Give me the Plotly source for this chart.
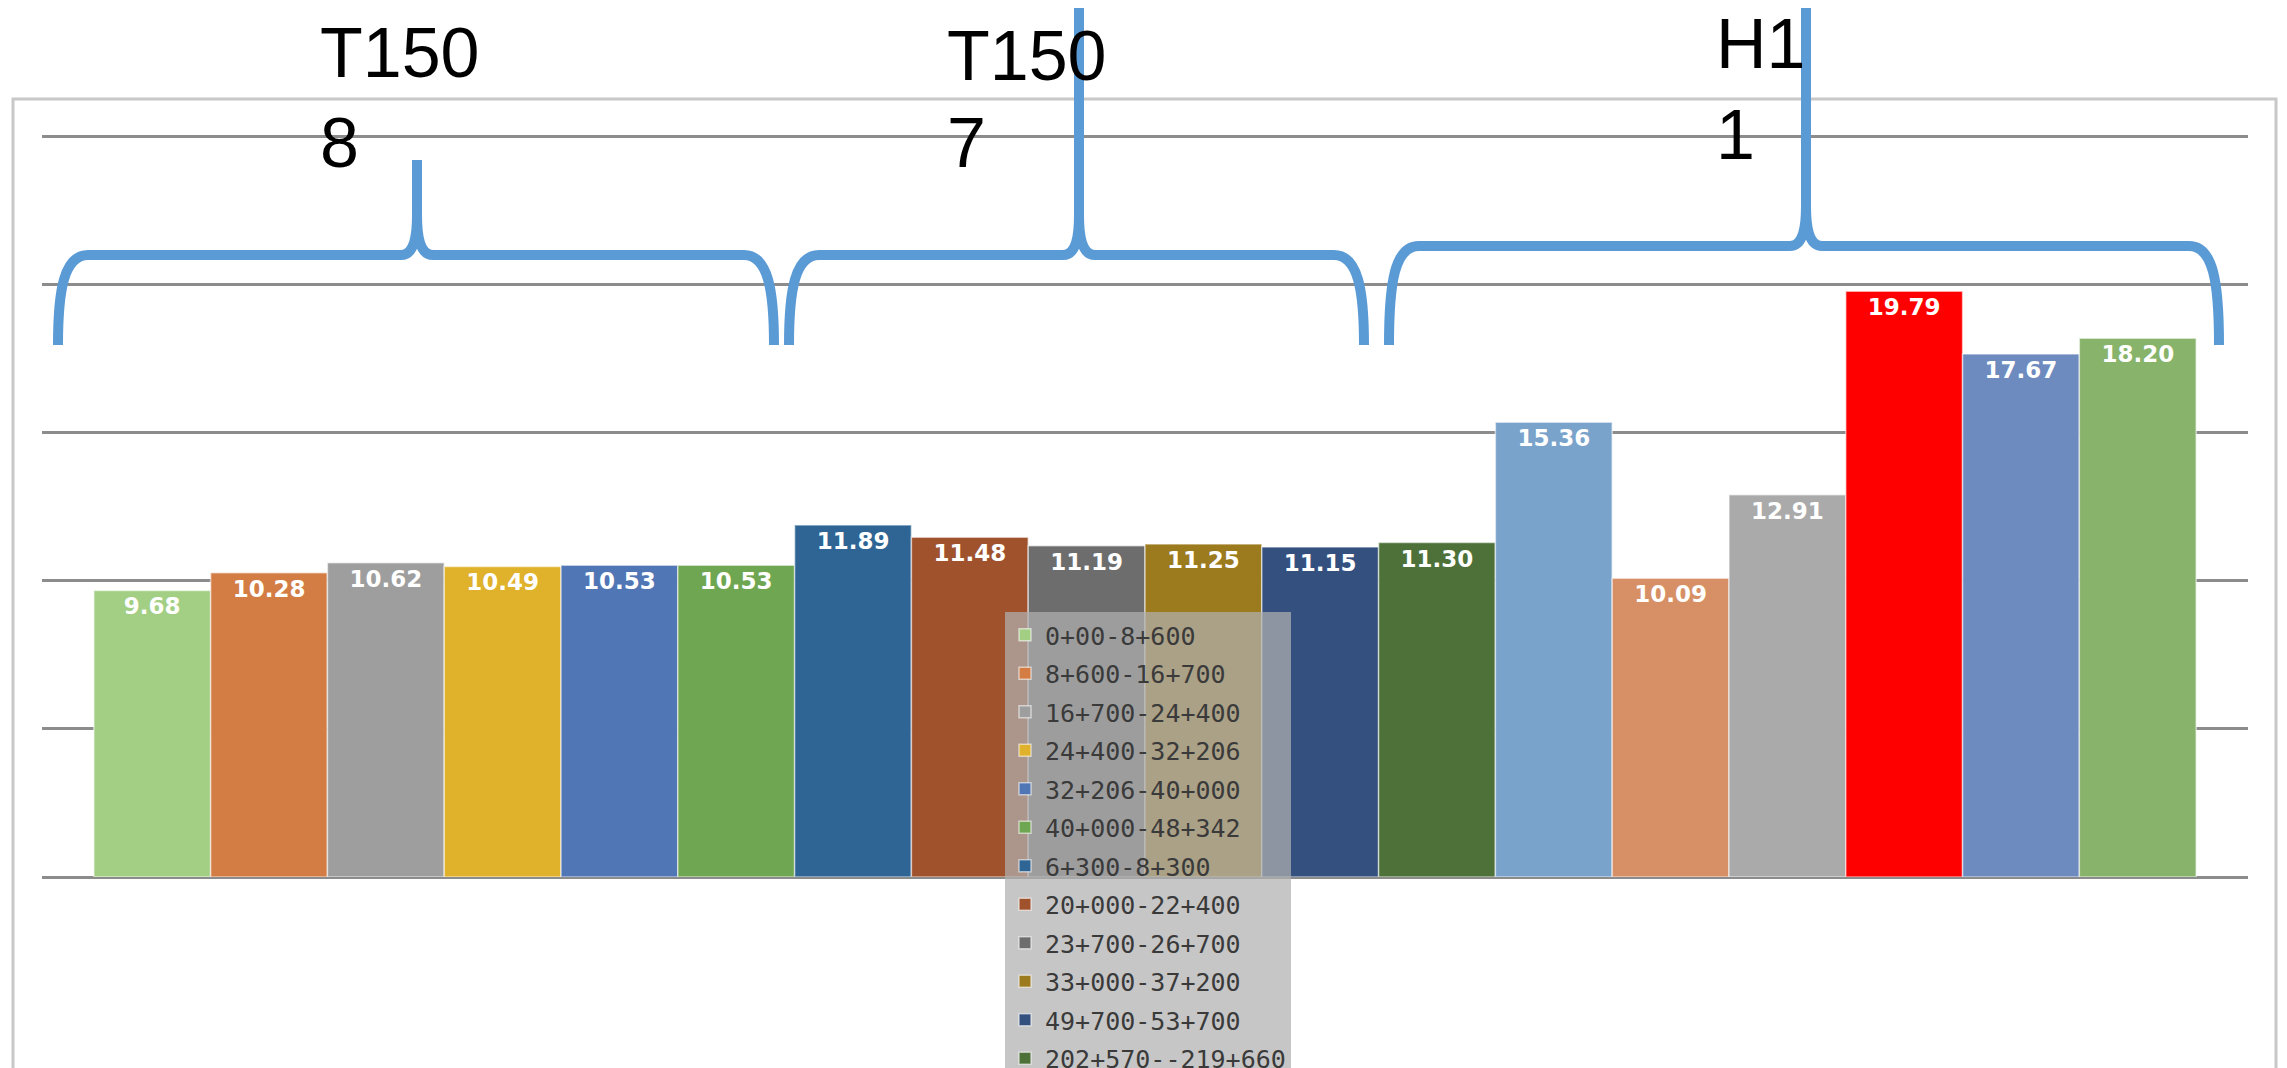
import plotly.graph_objects as go

# ---------------- data ----------------
series_names = [
    "0+00-8+600", "8+600-16+700", "16+700-24+400", "24+400-32+206",
    "32+206-40+000", "40+000-48+342", "6+300-8+300", "20+000-22+400",
    "23+700-26+700", "33+000-37+200", "49+700-53+700", "202+570--219+660",
    None, None, None, None, None, None,
]
values = [9.68, 10.28, 10.62, 10.49, 10.53, 10.53,
          11.89, 11.48, 11.19, 11.25, 11.15, 11.30,
          15.36, 10.09, 12.91, 19.79, 17.67, 18.20]
colors = ["#A3CF85", "#D37D44", "#9E9E9E", "#E0B12A", "#5176B6", "#6FA651",
          "#2E6594", "#A0522D", "#6D6D6D", "#9C7A1E", "#34507F", "#4D7139",
          "#7AA3CB", "#D79066", "#AAAAAA", "#FF0000", "#6E8BBF", "#88B36B"]
y_ticks = [0, 5, 10, 15, 20, 25]
group_labels = [("T150", "8"), ("T150", "7"), ("H1", "1")]

# ---------------- geometry helpers ----------------
W, H = 2287, 1068
OFF = 8                      # page body margin of the html page
ML, MR, MT, MB = 34, 47, 126, 199
PW = W - ML - MR
PH = H - MT - MB


def px(x):                   # screen x -> paper x
    return (x - OFF - ML) / PW


def py(y):                   # screen y -> paper y
    return (H - MB - (y - OFF)) / PH


def brace_path(xl, xr, xp, yh, yb, yp):
    pts = []
    pts.append(f"M {px(xl)},{py(yb)}")
    pts.append(f"C {px(xl)},{py(yh + 35)} {px(xl + 6)},{py(yh)} {px(xl + 30)},{py(yh)}")
    pts.append(f"L {px(xp - 16)},{py(yh)}")
    pts.append(f"C {px(xp - 3)},{py(yh)} {px(xp)},{py(yh - 18)} {px(xp)},{py(yh - 40)}")
    pts.append(f"L {px(xp)},{py(yp)}")
    pts.append(f"M {px(xp)},{py(yh - 40)}")
    pts.append(f"C {px(xp)},{py(yh - 18)} {px(xp + 3)},{py(yh)} {px(xp + 16)},{py(yh)}")
    pts.append(f"L {px(xr - 30)},{py(yh)}")
    pts.append(f"C {px(xr - 6)},{py(yh)} {px(xr)},{py(yh + 35)} {px(xr)},{py(yb)}")
    return " ".join(pts)


braces = [
    dict(xl=58, xr=774, xp=417, yh=255, yb=345, yp=160),
    dict(xl=789, xr=1364, xp=1079, yh=255, yb=345, yp=-20),
    dict(xl=1389, xr=2219, xp=1806, yh=246, yb=345, yp=-20),
]
label_pos = [(318, 53, 143), (945, 56, 143), (1714, 44, 135)]

# ---------------- figure ----------------
fig = go.Figure()
for i, (name, v, c) in enumerate(zip(series_names, values, colors)):
    fig.add_trace(go.Bar(
        x=[0], y=[v], name=name,
        marker=dict(color=c, line=dict(color="rgba(255,255,255,0.55)", width=1.5)),
        texttemplate="%{y:.2f}", textposition="inside", insidetextanchor="end",
        textangle=0, constraintext="none",
        textfont=dict(family="DejaVu Sans", size=23, color="white", weight="bold"),
        showlegend=name is not None, legendgroup=f"g{i}",
        hoverinfo="skip",
    ))

shapes = [dict(type="rect", xref="paper", yref="paper",
               x0=px(13), x1=px(2276), y0=py(99), y1=py(1300),
               line=dict(color="#C8C8C8", width=3), fillcolor="rgba(0,0,0,0)")]
for b in braces:
    shapes.append(dict(type="path", xref="paper", yref="paper",
                       path=brace_path(**b),
                       line=dict(color="#5B9BD5", width=10)))

annotations = []
for (top, bottom), (lx, ty, by) in zip(group_labels, label_pos):
    for txt, yy in ((top, ty), (bottom, by)):
        annotations.append(dict(
            text=txt, xref="paper", yref="paper", x=px(lx), y=py(yy),
            xanchor="left", yanchor="middle", showarrow=False,
            font=dict(family="Liberation Sans", size=70, color="black")))

fig.update_layout(
    width=W, height=H,
    margin=dict(l=ML, r=MR, t=MT, b=MB, autoexpand=False),
    paper_bgcolor="white", plot_bgcolor="white",
    barmode="group", bargap=0.047, bargroupgap=0,
    xaxis=dict(range=[-0.5, 0.5], visible=False, fixedrange=True),
    yaxis=dict(range=[0, 25.1], tickvals=y_ticks, showticklabels=False,
               showgrid=True, gridcolor="#8C8C8C", gridwidth=3,
               zeroline=True, zerolinecolor="#8C8C8C", zerolinewidth=3,
               showline=False, ticks="", fixedrange=True),
    legend=dict(x=px(1005), y=py(612), xanchor="left", yanchor="top",
                bgcolor="rgba(176,176,176,0.72)", borderwidth=0,
                font=dict(family="DejaVu Sans Mono", size=25, color="#3A3A3A"),
                traceorder="grouped", tracegroupgap=3, itemwidth=30),
    shapes=shapes, annotations=annotations,
    showlegend=True,
)

fig.write_html("out.html")
